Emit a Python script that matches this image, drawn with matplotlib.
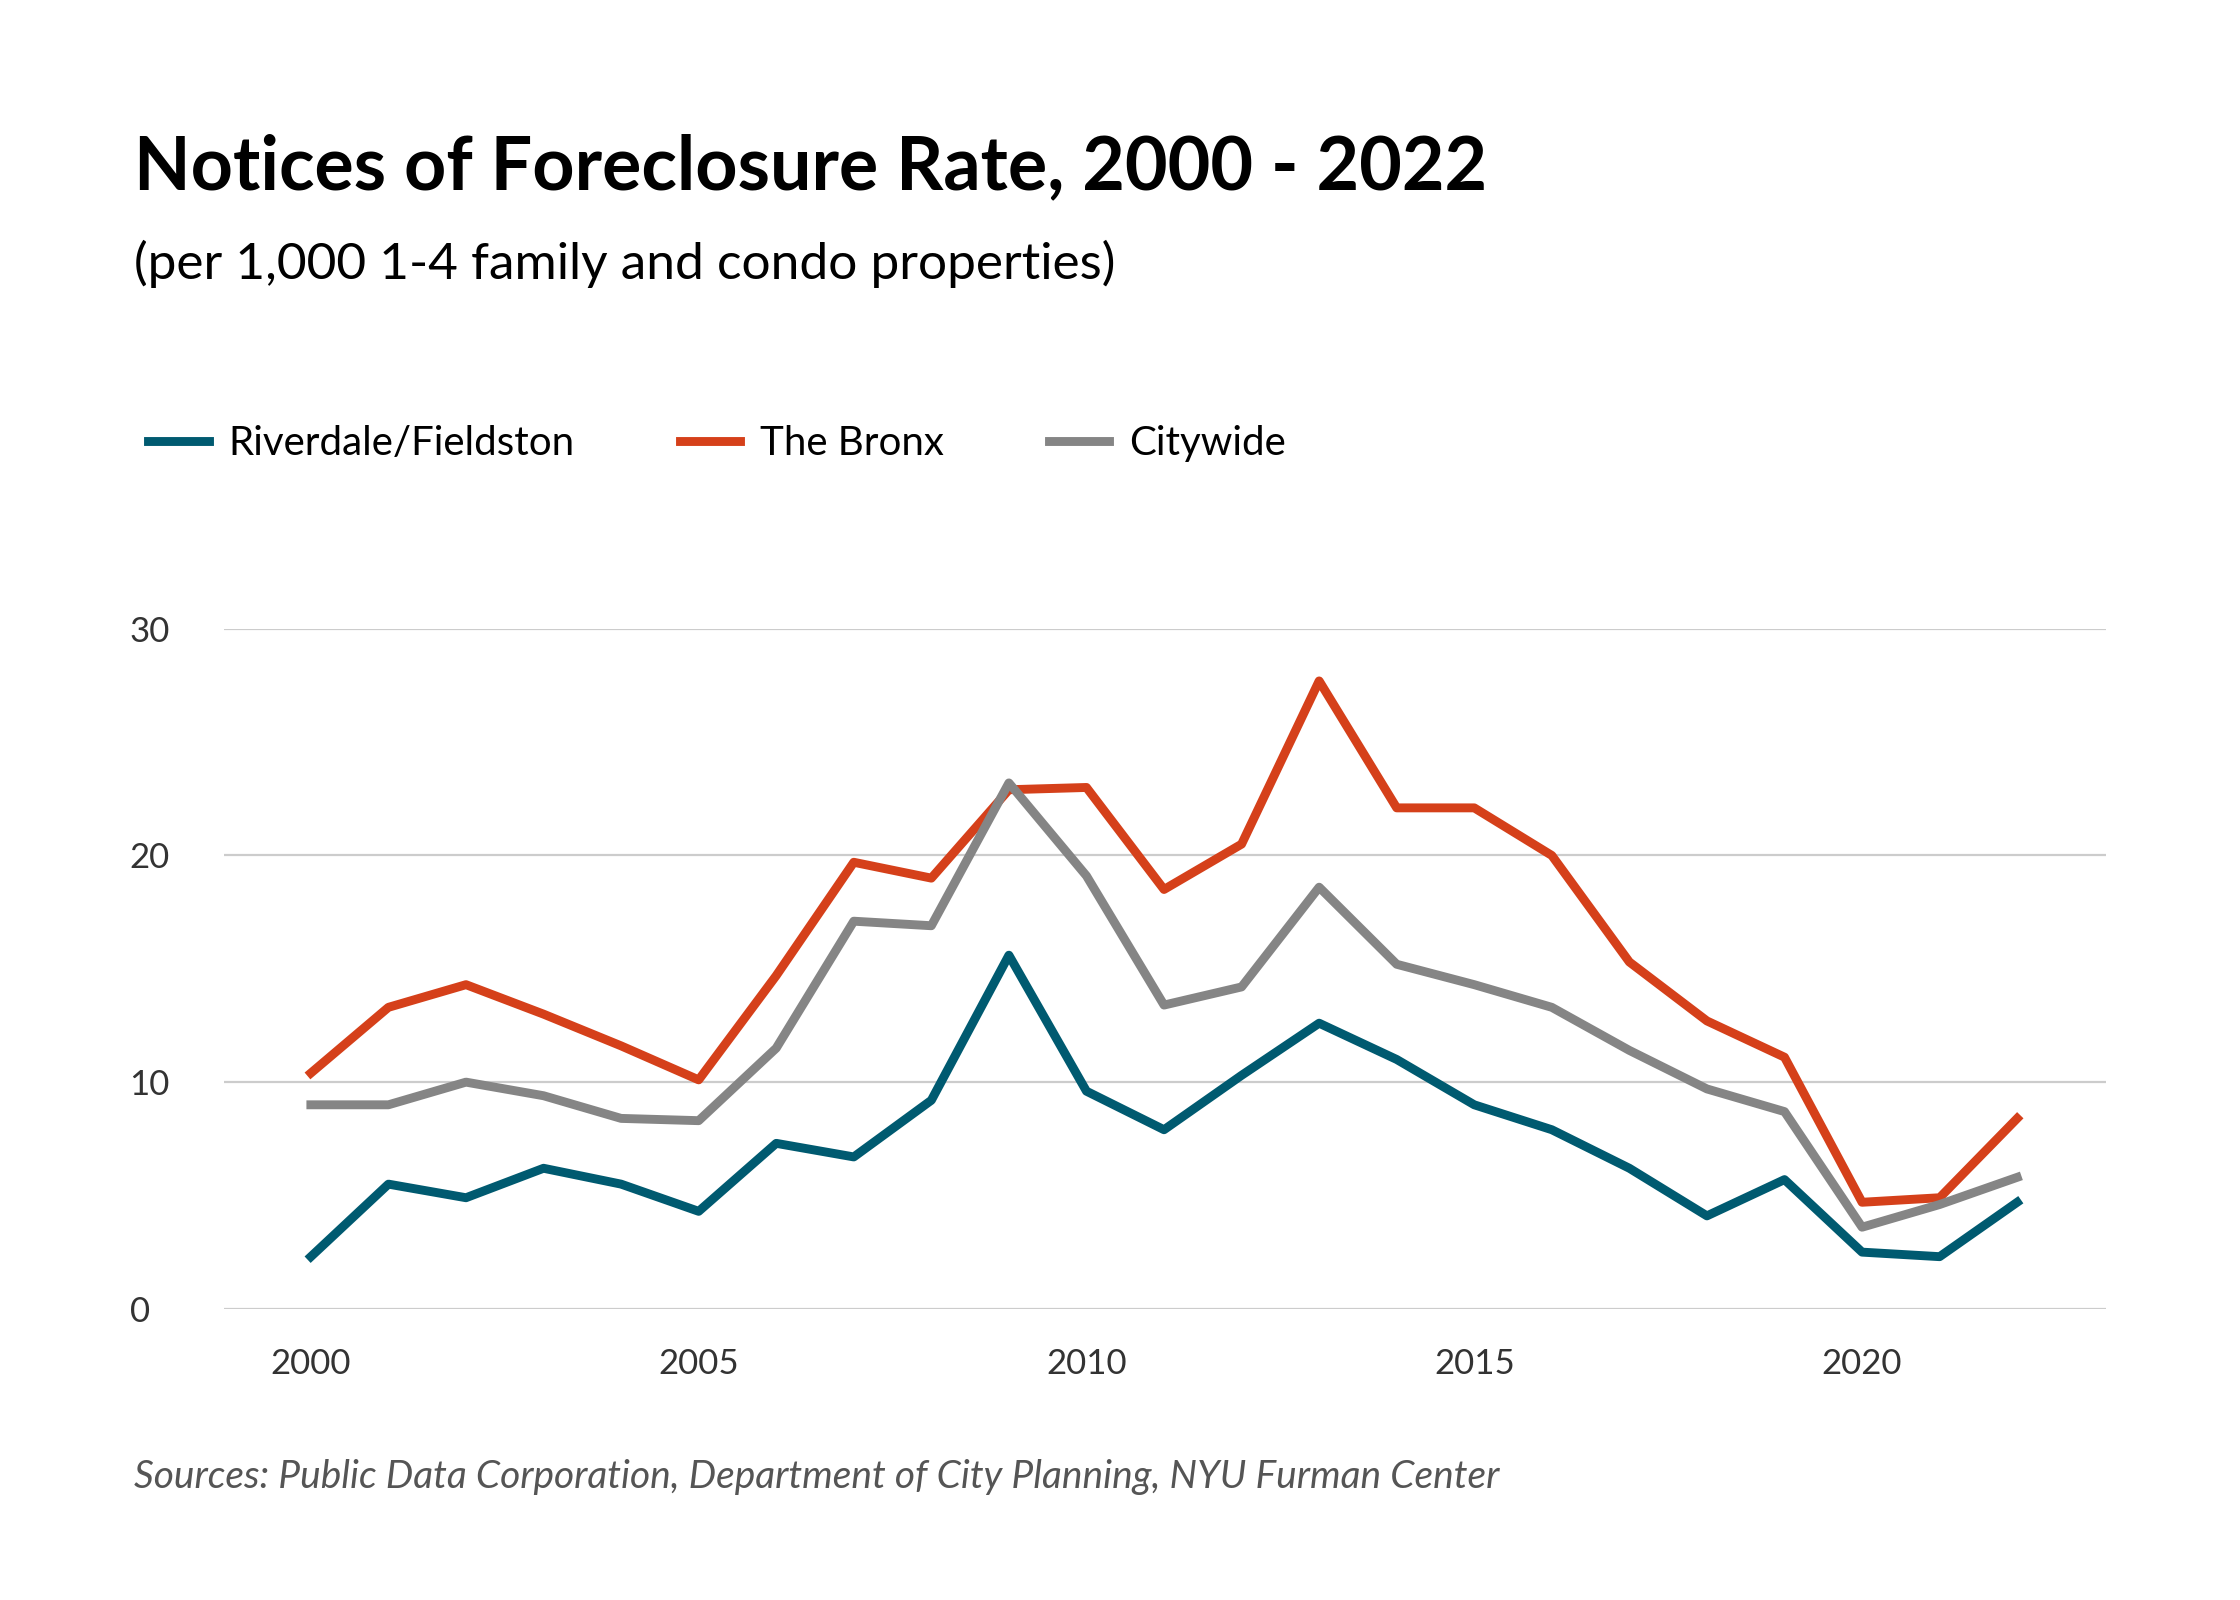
import numpy as np
import matplotlib
matplotlib.use("Agg")
import matplotlib.pyplot as plt

plt.rcParams['font.family'] = ['Lato', 'DejaVu Sans']

years = list(range(2000, 2023))
riverdale = [2.3, 5.5, 4.9, 6.2, 5.5, 4.3, 7.3, 6.7, 9.2, 15.6, 9.6, 7.9, 10.3,
             12.6, 11.0, 9.0, 7.9, 6.2, 4.1, 5.7, 2.5, 2.3, 4.7]
bronx = [10.4, 13.3, 14.3, 13.0, 11.6, 10.1, 14.7, 19.7, 19.0, 22.9, 23.0, 18.5, 20.5,
         27.7, 22.1, 22.1, 20.0, 15.3, 12.7, 11.1, 4.7, 4.9, 8.4]
citywide = [9.0, 9.0, 10.0, 9.4, 8.4, 8.3, 11.5, 17.1, 16.9, 23.2, 19.1, 13.4, 14.2,
            18.6, 15.2, 14.3, 13.3, 11.4, 9.7, 8.7, 3.6, 4.6, 5.8]
yticks = [0, 10, 20, 30]
xticks = [2000, 2005, 2010, 2015, 2020]

fig = plt.figure(figsize=(11.2, 8), dpi=200)
ax = fig.add_axes([0.1, 0.182, 0.84, 0.425])

ax.plot(years, riverdale, color='#005a70', lw=3.2, label='Riverdale/Fieldston')
ax.plot(years, bronx, color='#d5401a', lw=3.2, label='The Bronx')
ax.plot(years, citywide, color='#858585', lw=3.2, label='Citywide')

ax.set_xlim(1998.88, 2023.14)
ax.set_ylim(0, 30)
ax.set_yticks(yticks)
ax.set_xticks(xticks)
ax.grid(axis='y', color='#cccccc', lw=0.8)
ax.set_axisbelow(True)
for s in ax.spines.values():
    s.set_visible(False)
ax.tick_params(length=0, labelsize=12.5, colors='#333333')
ax.tick_params(axis='x', pad=14)
for lab in ax.get_yticklabels():
    lab.set_horizontalalignment('left')
ax.tick_params(axis='y', pad=34)

fig.text(0.06, 0.895, 'Notices of Foreclosure Rate, 2000 - 2022', fontsize=26.5,
         fontweight='bold', va='center')
fig.text(0.06, 0.835, '(per 1,000 1-4 family and condo properties)', fontsize=18.5,
         va='center')
fig.legend(loc='center left', bbox_to_anchor=(0.05, 0.723), ncol=3, frameon=False,
           fontsize=14.5, handlelength=1.5, columnspacing=2.6, handletextpad=0.5)
fig.text(0.06, 0.077, 'Sources: Public Data Corporation, Department of City Planning, NYU Furman Center',
         fontsize=14, style='italic', color='#555555', va='center')

fig.savefig('out.png', dpi=200, facecolor='white')
